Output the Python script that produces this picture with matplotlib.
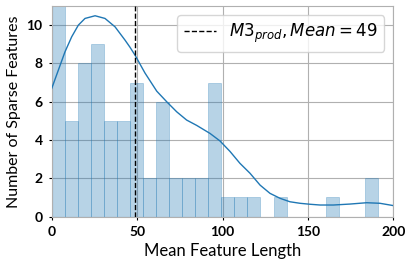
import numpy as np
import matplotlib
matplotlib.use('Agg')
import matplotlib.pyplot as plt

# histogram of mean feature lengths (25 bins between 0 and 191)
data_min, data_max, n_bins = 0.0, 191.0, 25
counts = [11, 5, 8, 9, 5, 5, 7, 2, 6, 2, 2, 2, 7, 1, 1, 1, 0, 1, 0, 0, 0, 1, 0, 0, 2]

# kde curve (scaled to counts)
kde_x = [0, 3.9, 7.8, 11.7, 15.6, 19.5, 25.4, 31.2, 37.1, 42.9, 45.8, 48.8, 54.6,
         61.5, 67.3, 73.2, 79.0, 84.9, 92.7, 98.5, 104.4, 110.2, 116.1, 122.0,
         127.8, 133.7, 139.5, 145.4, 151.2, 157.1, 164.9, 174.6, 184.4, 192.2, 200]
kde_y = [6.69, 7.65, 8.61, 9.39, 10.0, 10.35, 10.49, 10.35, 9.91, 9.22, 8.85, 8.43, 7.50,
         6.55, 6.0, 5.47, 5.04, 4.76, 4.34, 3.95, 3.40, 2.78, 2.26, 1.64,
         1.21, 0.95, 0.77, 0.69, 0.64, 0.60, 0.60, 0.65, 0.72, 0.69, 0.57]

mean_val = 49
label = r'$M3_{prod}, Mean = 49$'

edges = np.linspace(data_min, data_max, n_bins + 1)
width = edges[1] - edges[0]

fig = plt.figure(figsize=(4.11, 2.67), dpi=100)
ax = fig.add_axes([51.7/411, 1 - 216.5/267, (393.3-51.7)/411, (216.5-6)/267])

ax.grid(True, color='#b0b0b0', linewidth=0.8, zorder=0)
ax.set_axisbelow(True)

ax.bar(edges[:-1], counts, width=width, align='edge', color='#1f77b4', alpha=0.32,
       edgecolor='#1f77b4', linewidth=0.6, zorder=2)
ax.plot(kde_x, kde_y, color='#1f77b4', linewidth=1.0, zorder=3)
ax.axvline(mean_val, color='black', linestyle='--', linewidth=1.0, label=label, zorder=4)

ax.set_xlim(0, 200)
ax.set_ylim(0, 11)
ax.set_xticks([0, 50, 100, 150, 200])
ax.set_yticks([0, 2, 4, 6, 8, 10])

for s in ax.spines.values():
    s.set_color('#b0b0b0')
    s.set_linewidth(0.8)

ax.tick_params(axis='both', length=2.5, width=0.8, color='black', pad=4)
for t in ax.get_xticklabels() + ax.get_yticklabels():
    t.set_fontfamily('Lato')
    t.set_fontweight('bold')
    t.set_fontsize(10)

ax.set_xlabel('Mean Feature Length', fontfamily='Lato', fontsize=12)
ax.set_ylabel('Number of Sparse Features', fontfamily='Lato', fontsize=11.5)

ax.legend(loc='upper right', fontsize=12, framealpha=0.8, borderpad=0.4,
          handlelength=1.9, borderaxespad=0.55)

fig.savefig('out.png', dpi=100)
